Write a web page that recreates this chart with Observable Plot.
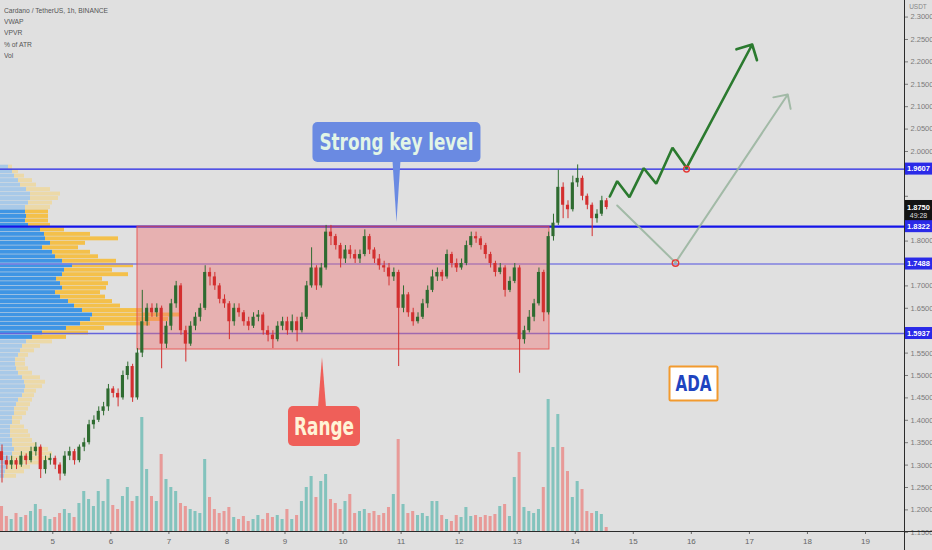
<!DOCTYPE html>
<html><head><meta charset="utf-8">
<script src="https://cdn.jsdelivr.net/npm/d3@7"></script>
<script src="https://cdn.jsdelivr.net/npm/@observablehq/plot@0.6"></script>
<style>
html,body{margin:0;padding:0;background:#e0e0e0;}
#chart{position:relative;width:932px;height:550px;overflow:hidden;background:#e0e0e0;}
#chart svg{position:absolute;left:0;top:0;}
.legend{position:absolute;left:4px;top:5px;font-family:"Liberation Sans",Arial,sans-serif;font-size:8px;line-height:11.2px;color:#555;transform:scaleX(0.84);transform-origin:left top;white-space:nowrap;}
</style></head><body>
<div id="chart"><div class="legend" id="legend"></div></div>
<script>
// ---------- data ----------
const legendLines = ["Cardano / TetherUS, 1h, BINANCE", "VWAP", "VPVR", "% of ATR", "Vol"];
const dayTicks = [5,6,7,8,9,10,11,12,13,14,15,16,17,18,19];
const priceTicks = [1.15,1.2,1.25,1.3,1.35,1.4,1.45,1.5,1.55,1.6,1.65,1.7,1.75,1.8,1.85,1.9,1.95,2.0,2.05,2.1,2.15,2.2,2.25,2.3];
const startDay = 4.125;          // first 2h candle (day of month)
const stepDays = 2 / 24;         // 2-hour candles
const firstOpen = 1.33;
const closes = [1.31,1.30,1.31,1.30,1.32,1.31,1.33,1.34,1.29,1.31,
1.315,1.30,1.28,1.32,1.33,1.31,1.34,1.35,1.39,1.40,
1.42,1.43,1.47,1.46,1.45,1.50,1.52,1.45,1.55,1.62,
1.65,1.64,1.65,1.57,1.61,1.66,1.70,1.60,1.57,1.61,
1.63,1.65,1.73,1.72,1.70,1.67,1.66,1.62,1.65,1.64,
1.62,1.61,1.63,1.635,1.60,1.59,1.58,1.61,1.62,1.60,
1.62,1.60,1.63,1.70,1.74,1.70,1.74,1.82,1.81,1.79,
1.76,1.78,1.77,1.76,1.77,1.81,1.78,1.76,1.745,1.74,
1.72,1.73,1.65,1.68,1.64,1.62,1.63,1.66,1.69,1.72,
1.73,1.72,1.77,1.75,1.74,1.75,1.79,1.81,1.805,1.79,
1.77,1.75,1.73,1.74,1.69,1.71,1.74,1.58,1.60,1.63,
1.66,1.73,1.64,1.81,1.84,1.92,1.88,1.87,1.93,1.94,
1.90,1.88,1.85,1.86,1.89,1.875];
const highs = [1.345,1.32,1.32,1.315,1.33,1.325,1.34,1.35,1.345,1.32,
1.325,1.32,1.305,1.33,1.34,1.335,1.345,1.36,1.40,1.41,
1.43,1.44,1.48,1.475,1.47,1.51,1.53,1.525,1.56,1.69,
1.66,1.66,1.66,1.655,1.62,1.67,1.71,1.705,1.61,1.62,
1.64,1.66,1.745,1.74,1.73,1.705,1.68,1.665,1.66,1.66,
1.645,1.63,1.64,1.645,1.64,1.61,1.60,1.62,1.63,1.63,
1.635,1.63,1.64,1.71,1.785,1.745,1.75,1.835,1.835,1.815,
1.795,1.79,1.79,1.78,1.78,1.825,1.815,1.785,1.77,1.755,
1.75,1.74,1.735,1.70,1.685,1.65,1.64,1.67,1.70,1.735,
1.74,1.735,1.78,1.775,1.76,1.76,1.80,1.82,1.82,1.81,
1.795,1.775,1.755,1.75,1.745,1.72,1.75,1.745,1.61,1.645,
1.67,1.74,1.735,1.82,1.86,1.958,1.93,1.89,1.945,1.97,
1.945,1.905,1.885,1.87,1.90,1.895];
const lows = [1.26,1.29,1.29,1.29,1.295,1.30,1.305,1.32,1.27,1.28,
1.30,1.29,1.265,1.275,1.31,1.30,1.305,1.33,1.345,1.38,
1.395,1.41,1.42,1.45,1.43,1.445,1.49,1.44,1.445,1.54,
1.61,1.63,1.63,1.515,1.56,1.60,1.65,1.59,1.53,1.565,
1.60,1.62,1.645,1.70,1.69,1.66,1.65,1.58,1.61,1.63,
1.61,1.60,1.605,1.62,1.59,1.575,1.56,1.575,1.60,1.59,
1.595,1.575,1.595,1.625,1.695,1.69,1.695,1.735,1.79,1.78,
1.74,1.75,1.76,1.75,1.75,1.765,1.77,1.75,1.735,1.73,
1.70,1.71,1.52,1.64,1.63,1.61,1.615,1.625,1.65,1.685,
1.71,1.71,1.715,1.74,1.73,1.735,1.745,1.785,1.795,1.78,
1.76,1.74,1.72,1.725,1.675,1.685,1.705,1.505,1.57,1.595,
1.62,1.655,1.62,1.635,1.80,1.835,1.85,1.85,1.865,1.92,
1.89,1.87,1.81,1.84,1.855,1.87];
const volumes = [25,15,12,18,14,16,20,27,22,15,
12,14,18,22,18,14,28,40,32,25,
40,30,52,26,22,35,44,30,35,114,
62,35,30,77,52,44,40,28,25,22,
20,18,72,34,22,18,20,24,14,12,
15,10,12,16,12,18,14,16,12,22,
12,16,30,44,55,34,50,57,32,28,
22,30,37,18,20,22,18,20,16,18,
24,37,92,27,18,20,16,18,15,30,
30,16,12,10,16,14,24,15,16,14,
16,15,17,25,27,15,54,79,24,20,
18,22,44,132,84,117,84,60,34,50,
42,20,18,20,17,4];
// volume profile (VPVR), price bins of 0.01 (lower edge)
const profileLevels = [1.96,1.95,1.94,1.93,1.92,1.91,1.90,1.89,1.88,1.87,
1.86,1.85,1.84,1.83,1.82,1.81,1.80,1.79,1.78,1.77,
1.76,1.75,1.74,1.73,1.72,1.71,1.70,1.69,1.68,1.67,
1.66,1.65,1.64,1.63,1.62,1.61,1.60,1.59,1.58,1.57,
1.56,1.55,1.54,1.53,1.52,1.51,1.50,1.49,1.48,1.47,
1.46,1.45,1.44,1.43,1.42,1.41,1.40,1.39,1.38,1.37,
1.36,1.35,1.34,1.33,1.32,1.31,1.30,1.29,1.28,1.27];
const profileUp = [8,12,14,18,20,26,30,30,28,25,
25,26,25,28,40,44,45,50,42,52,
55,62,72,64,62,56,60,62,55,60,
68,74,82,92,90,80,66,42,32,26,
22,20,18,15,15,16,18,22,24,25,
24,22,18,16,14,14,12,12,10,10,
10,12,12,14,12,10,8,6,5,4];
const profileTotal = [12,18,24,32,36,50,60,58,52,50,
48,48,48,50,64,90,118,85,78,90,
98,116,133,112,128,102,108,106,100,105,
112,120,142,182,168,150,104,88,66,52,
40,34,28,25,25,28,32,40,45,42,
36,34,32,30,28,26,22,20,24,28,
30,32,36,48,52,50,40,30,24,16];
const valueAreaLow = 1.58, valueAreaHigh = 1.86;
const keyLevels = [1.9607, 1.8322, 1.7488, 1.5937];
const lastPrice = 1.8750, countdown = "49:28";
const rangeZone = {day1: 6.459, day2: 13.556, low: 1.558, high: 1.8322};
const bullDays   = [14.595,14.723,14.934,15.181,15.395,15.675,15.917,17.048];
const bullPrices = [1.8996,1.9337,1.8980,1.9627,1.9279,2.0083,1.9636,2.2388];
const altDays    = [14.723,15.727,17.661];
const altPrices  = [1.8795,1.7520,2.1272];
const touchDays   = [15.917, 15.727];
const touchPrices = [1.9607, 1.7510];
const callouts = [
  {label: "Strong key level", day: 10.929, price: 1.8415},
  {label: "Range", day: 9.646, price: 1.540},
  {label: "ADA", day: 16.046, price: 1.481}
];

// ---------- tables ----------
const candles = closes.map((c, i) => ({
  day: startDay + i * stepDays,
  open: i === 0 ? firstOpen : closes[i - 1],
  close: c, high: highs[i], low: lows[i], vol: volumes[i]
}));
candles.forEach(d => d.up = d.close >= d.open);
const profile = profileLevels.map((p, i) => ({
  level: p, up: profileUp[i], total: profileTotal[i],
  va: p >= valueAreaLow && p <= valueAreaHigh
}));

// ---------- layout ----------
const W = 932, H = 550;
const frame = {width: W, height: H, marginLeft: 0, marginRight: 28, marginTop: 0, marginBottom: 19};
const xDomain = [4.099, 19.672];
const yDomain = [1.1518, 2.337];
const chart = document.getElementById("chart");
const legendEl = document.getElementById("legend");
legendLines.forEach(t => { const d = document.createElement("div"); d.textContent = t; legendEl.appendChild(d); });

// volume layer
const volPlot = Plot.plot({
  ...frame, style: {background: "transparent"},
  x: {domain: xDomain, axis: null},
  y: {domain: [0, 531], axis: null},
  marks: [
    Plot.rect(candles.filter(d => d.up), {x1: d => d.day - 0.026, x2: d => d.day + 0.026, y1: 0, y2: "vol", fill: "#26a69a", fillOpacity: 0.5}),
    Plot.rect(candles.filter(d => !d.up), {x1: d => d.day - 0.026, x2: d => d.day + 0.026, y1: 0, y2: "vol", fill: "#ef5350", fillOpacity: 0.5})
  ]
});
chart.insertBefore(volPlot, legendEl);

// VPVR layer
const vpPlot = Plot.plot({
  ...frame, style: {background: "transparent"},
  x: {domain: [0, 904], axis: null},
  y: {domain: yDomain, axis: null},
  color: {type: "identity"},
  marks: [
    Plot.rect(profile, {x1: 0, x2: "up", y1: d => d.level + 0.0006, y2: d => d.level + 0.0094, fill: d => d.va ? "#3f95e4" : "#a8c9e8"}),
    Plot.rect(profile, {x1: "up", x2: "total", y1: d => d.level + 0.0006, y2: d => d.level + 0.0094, fill: d => d.va ? "#f4c04a" : "#ecd9a8"})
  ]
});
chart.insertBefore(vpPlot, legendEl);

// main price layer
const lineStyles = [
  {stroke: "#2323e6", strokeWidth: 1.3},
  {stroke: "#1414e8", strokeWidth: 2.2},
  {stroke: "#8080e0", strokeWidth: 1.4},
  {stroke: "#6464dc", strokeWidth: 1.6}
];
const bull = bullDays.map((d, i) => ({day: d, price: bullPrices[i]}));
const alt = altDays.map((d, i) => ({day: d, price: altPrices[i]}));
const touches = touchDays.map((d, i) => ({day: d, price: touchPrices[i]}));
const fmt = d3.format(".4f");
// tick labels that sit beneath a price tag are hidden (as on the reference)
const tagValues = [...keyLevels, lastPrice];
const hiddenTick = t => tagValues.some(p => Math.abs(p - t) < 0.026);
const main = Plot.plot({
  ...frame, style: {background: "transparent", overflow: "visible"},
  x: {domain: xDomain},
  y: {domain: yDomain},
  marks: [
    ...keyLevels.map((p, i) => Plot.ruleY([p], lineStyles[i])),
    Plot.rect([rangeZone], {x1: "day1", x2: "day2", y1: "low", y2: "high", fill: "#f07070", fillOpacity: 0.42, stroke: "#e84a46", strokeOpacity: 0.85, strokeWidth: 1}),
    Plot.ruleX(candles.filter(d => d.up), {x: "day", y1: "low", y2: "high", stroke: "#2e6b30", strokeWidth: 1}),
    Plot.ruleX(candles.filter(d => !d.up), {x: "day", y1: "low", y2: "high", stroke: "#d32f2f", strokeWidth: 1}),
    Plot.rect(candles.filter(d => d.up), {x1: d => d.day - 0.027, x2: d => d.day + 0.027, y1: "open", y2: "close", fill: "#2e6b30"}),
    Plot.rect(candles.filter(d => !d.up), {x1: d => d.day - 0.027, x2: d => d.day + 0.027, y1: "open", y2: "close", fill: "#d32f2f"}),
    // alternate (grey) scenario
    Plot.line(alt.slice(0, -1), {x: "day", y: "price", stroke: "#97b39c", strokeWidth: 2, strokeOpacity: 0.85}),
    Plot.arrow([{a: alt[alt.length - 2], b: alt[alt.length - 1]}], {x1: d => d.a.day, y1: d => d.a.price, x2: d => d.b.day, y2: d => d.b.price, stroke: "#97b39c", strokeWidth: 2, strokeOpacity: 0.85, headLength: 11, headAngle: 90}),
    // bullish scenario
    Plot.line(bull.slice(0, -1), {x: "day", y: "price", stroke: "#2b7a2f", strokeWidth: 2.6, strokeLinejoin: "miter"}),
    Plot.arrow([{a: bull[bull.length - 2], b: bull[bull.length - 1]}], {x1: d => d.a.day, y1: d => d.a.price, x2: d => d.b.day, y2: d => d.b.price, stroke: "#2b7a2f", strokeWidth: 2.6, headLength: 9.5, headAngle: 90}),
    Plot.dot(touches, {x: "day", y: "price", r: (d, i) => i === 0 ? 5 : 6, stroke: "#e53935", strokeWidth: 1.4, fill: "none"}),
    Plot.axisY({anchor: "right", ticks: priceTicks, tickFormat: t => hiddenTick(t) ? "" : fmt(t), tickSize: 3, tickPadding: 3, fontSize: 7.5, color: "#7a7a7a", fontFamily: "Liberation Sans Narrow, Liberation Sans, sans-serif"}),
    Plot.axisX({anchor: "bottom", ticks: dayTicks, tickFormat: d => String(d), tickSize: 3, tickPadding: 4, fontSize: 8, color: "#666", fontFamily: "Liberation Sans, sans-serif"})
  ]
});
chart.insertBefore(main, legendEl);

// ---------- overlays using Plot's scales ----------
const sx = main.scale("x"), sy = main.scale("y");
const svg = d3.select(main);
svg.append("line").attr("x1", 904.5).attr("x2", 904.5).attr("y1", 0).attr("y2", H).attr("stroke", "#2b2b2b").attr("stroke-width", 1);
svg.append("line").attr("x1", 0).attr("x2", W).attr("y1", 531.5).attr("y2", 531.5).attr("stroke", "#2b2b2b").attr("stroke-width", 1);
svg.append("text").attr("x", 918).attr("y", 9).attr("text-anchor", "middle").attr("font-size", 6.5)
  .attr("font-family", "Liberation Sans, sans-serif").attr("fill", "#888").text("USDT");

const tagFont = "Liberation Sans Narrow, Liberation Sans, sans-serif";
const yl = sy.apply(lastPrice);
svg.append("rect").attr("x", 905).attr("y", yl - 7).attr("width", 27).attr("height", 21).attr("fill", "#131313");
svg.append("text").attr("x", 918.5).attr("y", yl + 2.6).attr("text-anchor", "middle").attr("font-size", 7.5).attr("font-weight", "bold")
  .attr("font-family", tagFont).attr("fill", "#fff").text(fmt(lastPrice));
svg.append("text").attr("x", 918.5).attr("y", yl + 11.5).attr("text-anchor", "middle").attr("font-size", 7)
  .attr("font-family", tagFont).attr("fill", "#ddd").text(countdown);
keyLevels.forEach(p => {
  const y = sy.apply(p);
  svg.append("rect").attr("x", 905).attr("y", y - 6).attr("width", 27).attr("height", 12).attr("fill", "#2a2ae8");
  svg.append("text").attr("x", 918.5).attr("y", y + 2.7).attr("text-anchor", "middle").attr("font-size", 7.5).attr("font-weight", "bold")
    .attr("font-family", tagFont).attr("fill", "#fff").text(fmt(p));
});

const calloutFont = "Liberation Sans Narrow, DejaVu Sans Condensed, Arial Narrow, sans-serif";
function callout(c, o) {
  const tx = sx.apply(c.day), ty = sy.apply(c.price);
  const g = svg.append("g");
  let bx, by;
  if (o.pointer === "down") {
    by = ty - o.gap - o.h; bx = tx - o.w / 2;
    g.append("path").attr("d", `M${tx - 4},${by + o.h - 1}L${tx + 4},${by + o.h - 1}L${tx},${ty}Z`).attr("fill", o.fill);
  } else if (o.pointer === "up") {
    by = ty + o.gap; bx = tx - o.w / 2 + (o.shift || 0);
    g.append("path").attr("d", `M${tx - 4},${by + 1}L${tx + 4},${by + 1}L${tx},${ty}Z`).attr("fill", o.fill);
  } else {
    bx = tx - o.w / 2; by = ty - o.h / 2;
  }
  g.append("rect").attr("x", bx).attr("y", by).attr("width", o.w).attr("height", o.h).attr("rx", o.rx)
    .attr("fill", o.fill).attr("stroke", o.stroke || "none").attr("stroke-width", o.strokeWidth || 0);
  g.append("text").attr("x", bx + o.w / 2).attr("y", by + o.h / 2).attr("dy", "0.36em").attr("text-anchor", "middle")
    .attr("font-family", calloutFont).attr("font-weight", "bold").attr("font-size", o.size).attr("fill", o.color)
    .attr("textLength", o.tl).attr("lengthAdjust", "spacingAndGlyphs").text(c.label);
}
callout(callouts[0], {pointer: "down", gap: 60, w: 168, h: 40, rx: 5, fill: "#6a8ae2", color: "#e2f5e6", size: 23, tl: 154});
callout(callouts[1], {pointer: "up", gap: 49, w: 72, h: 40, rx: 5, fill: "#ef5f59", color: "#fff3d6", size: 25, tl: 60, shift: 2});
callout(callouts[2], {pointer: "none", w: 48, h: 34, rx: 1, fill: "#ffffff", stroke: "#f29a2e", strokeWidth: 2, color: "#1f44c0", size: 22, tl: 36});
</script>
</body></html>
